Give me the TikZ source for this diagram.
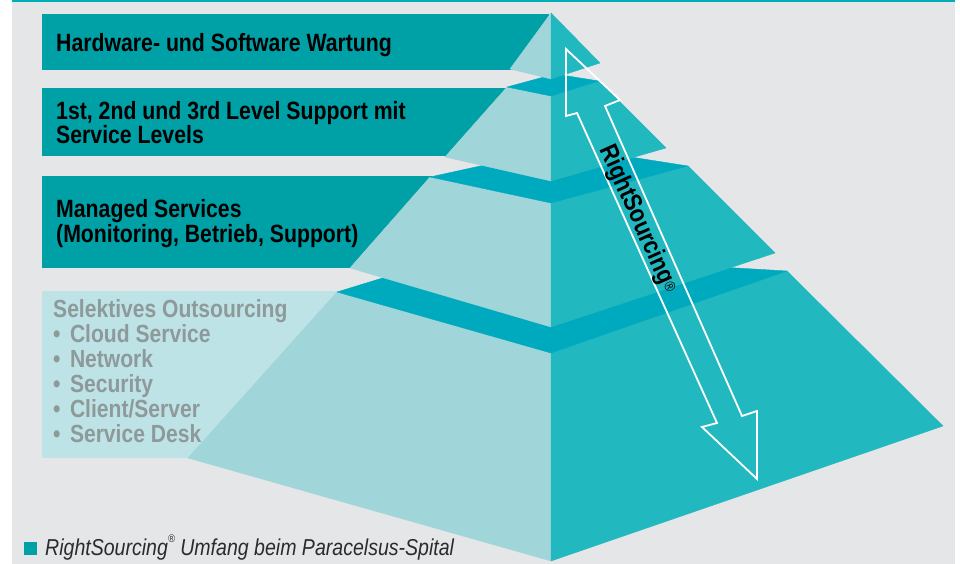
\documentclass[tikz,border=0pt]{standalone}
\usepackage{fontspec}
\setmainfont{Liberation Sans}
\newfontfamily\condfont[FakeStretch=0.85]{Liberation Sans}
\definecolor{bggray}{HTML}{E5E6E8}
\definecolor{topline}{HTML}{00AEB8}
\definecolor{boxteal}{HTML}{00A0A7}
\definecolor{lightface}{HTML}{A0D5DA}
\definecolor{rightface}{HTML}{22B8C0}
\definecolor{topface}{HTML}{00AABE}
\definecolor{selbox}{HTML}{BEE3E7}
\definecolor{selgray}{HTML}{8E999A}
\definecolor{captext}{HTML}{2B2B2B}
\newcommand{\selbullet}{•\hspace{0.38em}}
\newcommand{\smallreg}{\raisebox{0.55em}{\fontsize{11}{11}\selectfont ®}}
\newcommand{\bigreg}{\raisebox{0.12em}{\fontsize{15}{15}\selectfont\mdseries ®}}
\tikzset{
  boxtitle/.style={anchor=base west, inner sep=0pt, text=black,
    font=\condfont\bfseries\fontsize{25}{25}\selectfont},
  seltext/.style={anchor=base west, inner sep=0pt, text=selgray,
    font=\condfont\bfseries\fontsize{24.8}{25}\selectfont},
  captionstyle/.style={anchor=base west, inner sep=0pt, text=captext,
    font=\condfont\itshape\fontsize{23}{23}\selectfont},
  arrowtext/.style={inner sep=0pt, text=black,
    font=\condfont\bfseries\fontsize{25.5}{25}\selectfont},
  lface/.style={fill=lightface, draw=lightface, line width=0.4pt, line join=round},
  rface/.style={fill=rightface, draw=rightface, line width=0.4pt, line join=round},
  tface/.style={fill=topface, draw=topface, line width=0.4pt, line join=round},
  hollowarrow/.style={draw=white, line width=1.8pt, line join=miter},
}
\begin{document}
\begin{tikzpicture}[x=1pt,y=-1pt]
\useasboundingbox (0,0) rectangle (960,564);
\fill[white] (0,0) rectangle (960,564);
\fill[bggray] (12,0) rectangle (955,564);
\fill[topline] (12,0) rectangle (955,1.6);

% label boxes (behind the pyramid)
\fill[boxteal] (42,14) rectangle (549,70);
\fill[boxteal] (42,88) rectangle (510,156);
\fill[boxteal] (42,176) rectangle (432,268);
\fill[selbox] (42,291) rectangle (338,458);

% tier 4 (bottom)
\fill[lface] (337,292) -- (188,458) -- (551,561) -- (551,353) -- cycle;
\fill[rface] (551,353) -- (551,561) -- (943,426) -- (787,271) -- cycle;
\fill[tface] (337,292) -- (551,353) -- (787,271) -- (467,252) -- cycle;
% tier 3
\fill[lface] (430,177) -- (350,268) -- (551,327) -- (551,203) -- cycle;
\fill[rface] (551,203) -- (551,327) -- (775,253) -- (688,166) -- cycle;
\fill[tface] (430,177) -- (551,203) -- (688,166) -- (567,147) -- cycle;
% tier 2
\fill[lface] (507,87) -- (445,157) -- (551,181) -- (551,96) -- cycle;
\fill[rface] (551,96) -- (551,181) -- (666,148) -- (599,81) -- cycle;
\fill[tface] (507,87) -- (551,96) -- (599,81) -- (555,74) -- cycle;
% tier 1 (top)
\fill[lface] (551,13) -- (510,69) -- (551,79) -- cycle;
\fill[rface] (551,13) -- (551,79) -- (600,63) -- cycle;

% RightSourcing double arrow (hollow)
\coordinate (atop) at (566,49);
\coordinate (abot) at (757,479);
\draw[hollowarrow] (atop) -- (620,100) -- (605,106) -- (742,416) -- (757,411)
  -- (abot) -- (702,427) -- (717,423) -- (577,113) -- (566,116) -- cycle;
\node[arrowtext, rotate=-65.9] (rs) at (638,219) {RightSourcing\bigreg};

% box texts
\node[boxtitle] (t1) at (56,51.7) {Hardware- und Software Wartung};
\node[boxtitle] (t2a) at (56,120) {1st, 2nd und 3rd Level Support mit};
\node[boxtitle] (t2b) at (56,144) {Service Levels};
\node[boxtitle] (t3a) at (56,217.3) {Managed Services};
\node[boxtitle] (t3b) at (56,242.7) {(Monitoring, Betrieb, Support)};

\node[seltext] (s0) at (53,317.7) {Selektives Outsourcing};
\node[seltext] (s1) at (53,342.7) {\selbullet Cloud Service};
\node[seltext] (s2) at (53,367.7) {\selbullet Network};
\node[seltext] (s3) at (53,392.7) {\selbullet Security};
\node[seltext] (s4) at (53,417.7) {\selbullet Client/Server};
\node[seltext] (s5) at (53,442.7) {\selbullet Service Desk};

% caption
\fill[boxteal] (24,542) rectangle (37,555);
\node[captionstyle] (cap) at (45,555) {RightSourcing\smallreg\ Umfang beim Paracelsus-Spital};
\end{tikzpicture}
\end{document}
